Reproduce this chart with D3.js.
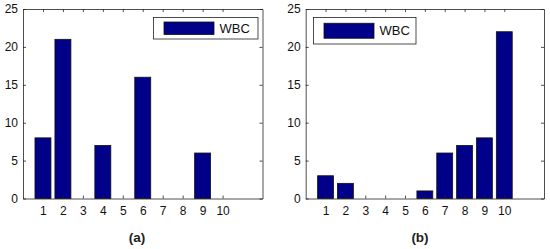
<!DOCTYPE html>
<html>
<head>
<meta charset="utf-8">
<script src="https://cdn.jsdelivr.net/npm/d3@7"></script>
<style>
  body { margin: 0; background: #fff; }
  svg text { font-family: Arial, "Liberation Sans", sans-serif; }
</style>
</head>
<body>
<div id="chart"></div>
<script>
const categories = [1, 2, 3, 4, 5, 6, 7, 8, 9, 10];
const valuesA = [8, 21, 0, 7, 0, 16, 0, 0, 6, 0];
const valuesB = [3, 2, 0, 0, 0, 1, 6, 7, 8, 22];
const yTicks = [0, 5, 10, 15, 20, 25];
const seriesName = "WBC";

const svg = d3.select("#chart").append("svg").attr("width", 550).attr("height", 249);

// one panel per subfigure
function drawPanel(opts) {
  const x = d3.scaleLinear().domain([0, 12]).range([opts.left, opts.right]);
  const y = d3.scaleLinear().domain([0, 25]).range([opts.bottom, opts.top]);
  const g = svg.append("g");
  const bw = (x(1) - x(0)) * 0.8;

  g.append("rect")
    .attr("x", opts.left).attr("y", opts.top)
    .attr("width", opts.right - opts.left).attr("height", opts.bottom - opts.top)
    .attr("fill", "#fff");

  g.selectAll(".bar")
    .data(opts.values.map((v, i) => ({cat: categories[i], v})).filter(d => d.v > 0))
    .enter().append("rect")
    .attr("x", d => x(d.cat) - bw / 2)
    .attr("y", d => y(d.v))
    .attr("width", bw)
    .attr("height", d => y(0) - y(d.v))
    .attr("fill", "#000088")
    .attr("stroke", "#111")
    .attr("stroke-width", 0.8);

  // axes, MATLAB style: ticks inside, box all around
  const tickStyle = a => a.selectAll("text").attr("font-size", 12).attr("fill", "#111");
  g.append("g").attr("transform", `translate(0,${opts.bottom})`)
    .call(d3.axisBottom(x).tickValues(categories).tickFormat(d3.format("d")).tickSize(-3).tickSizeOuter(0).tickPadding(8))
    .call(tickStyle);
  g.append("g").attr("transform", `translate(0,${opts.top})`)
    .call(d3.axisTop(x).tickValues(categories).tickFormat("").tickSize(-3).tickSizeOuter(0));
  g.append("g").attr("transform", `translate(${opts.left},0)`)
    .call(d3.axisLeft(y).tickValues(yTicks).tickSize(-3).tickSizeOuter(0).tickPadding(5))
    .call(tickStyle);
  g.append("g").attr("transform", `translate(${opts.right},0)`)
    .call(d3.axisRight(y).tickValues(yTicks).tickFormat("").tickSize(-3).tickSizeOuter(0));
  g.selectAll(".domain, .tick line").attr("stroke", "#222").attr("stroke-width", 0.8);

  // legend
  const L = opts.legend;
  g.append("rect").attr("x", L.x).attr("y", L.y).attr("width", L.w).attr("height", L.h)
    .attr("fill", "#fff").attr("stroke", "#222").attr("stroke-width", 0.8);
  g.append("rect").attr("x", L.x + 10.5).attr("y", L.y + (L.h - L.sh) / 2).attr("width", 50).attr("height", L.sh)
    .attr("fill", "#000088").attr("stroke", "#111").attr("stroke-width", 0.8);
  g.append("text").attr("x", L.x + 66).attr("y", L.y + L.h / 2 + 4.5)
    .attr("font-size", 13).attr("fill", "#111").text(seriesName);

  // subcaption
  svg.append("text").attr("x", opts.capX).attr("y", 242)
    .attr("text-anchor", "middle")
    .attr("font-family", "'Liberation Serif', 'DejaVu Serif', serif")
    .attr("font-size", 13.5).attr("font-weight", "bold").attr("fill", "#222")
    .text(opts.caption);
}

drawPanel({left: 23, right: 262.5, top: 9, bottom: 198.5, values: valuesA,
  legend: {x: 153.5, y: 17.5, w: 104.5, h: 21.5, sh: 12.5}, caption: "(a)", capX: 137});
drawPanel({left: 305.7, right: 544, top: 9, bottom: 198.5, values: valuesB,
  legend: {x: 313.5, y: 17.5, w: 102.5, h: 26.5, sh: 15}, caption: "(b)", capX: 420});
</script>
</body>
</html>
